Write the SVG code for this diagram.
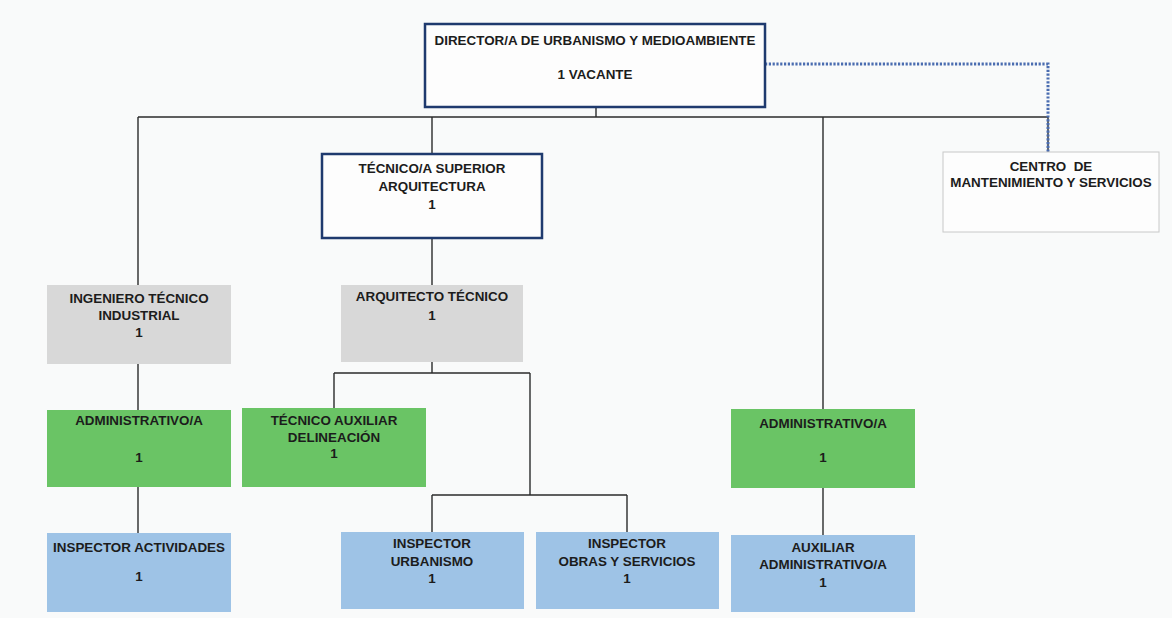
<svg xmlns="http://www.w3.org/2000/svg" width="1172" height="618" viewBox="0 0 1172 618">
<style>
text{font-family:"Liberation Sans",Arial,sans-serif;font-weight:bold;font-size:13.4px;fill:#1c1c1c;text-anchor:middle;white-space:pre}
.conn{stroke:#2b2b2b;stroke-width:1.4;fill:none}
.dot{stroke:#4a6cb0;stroke-width:3;stroke-dasharray:2.2 1.6;fill:none}
.head{fill:#fdfdfd;stroke:#1f3a6e;stroke-width:2.5}
.plain{fill:#fdfdfd;stroke:#c8c8c8;stroke-width:1}
.gray{fill:#d8d8d8}
.green{fill:#6ac465}
.blue{fill:#9ec3e6}
</style>
<rect width="1172" height="618" fill="#f9fafa"/>
<g id="connectors">
<path class="conn" d="M596 107V117M138 117H1048M138 117V285M432 117V154M823 117V409M1048 117V152"/>
<path class="conn" d="M432 238V285M138 364V410M138 487V533"/>
<path class="conn" d="M432 362V373M334 373H530M334 373V408M530 373V495M432 495H627M432 495V532M627 495V532"/>
<path class="conn" d="M823 488V535"/>
<path class="dot" d="M765 64H1048V152"/>
</g>
<g id="director">
<rect class="head" x="425" y="24" width="340" height="83"/>
<text x="595" y="45">DIRECTOR/A DE URBANISMO Y MEDIOAMBIENTE</text>
<text x="595" y="79">1 VACANTE</text>
</g>
<g id="tecnico-superior">
<rect class="head" x="322" y="154" width="220" height="84"/>
<text x="432" y="173">TÉCNICO/A SUPERIOR</text>
<text x="432" y="191">ARQUITECTURA</text>
<text x="432" y="209">1</text>
</g>
<g id="centro">
<rect class="plain" x="943" y="152" width="216" height="80"/>
<text x="1051" y="171" xml:space="preserve">CENTRO  DE</text>
<text x="1051" y="187">MANTENIMIENTO Y SERVICIOS</text>
</g>
<g id="ingeniero">
<rect class="gray" x="47" y="285" width="184" height="79"/>
<text x="139" y="303">INGENIERO TÉCNICO</text>
<text x="139" y="320">INDUSTRIAL</text>
<text x="139" y="337">1</text>
</g>
<g id="arquitecto-tecnico">
<rect class="gray" x="341" y="285" width="182" height="77"/>
<text x="432" y="301">ARQUITECTO TÉCNICO</text>
<text x="432" y="320">1</text>
</g>
<g id="administrativo-1">
<rect class="green" x="47" y="410" width="184" height="77"/>
<text x="139" y="425">ADMINISTRATIVO/A</text>
<text x="139" y="462">1</text>
</g>
<g id="tecnico-auxiliar">
<rect class="green" x="242" y="408" width="184" height="79"/>
<text x="334" y="425">TÉCNICO AUXILIAR</text>
<text x="334" y="442">DELINEACIÓN</text>
<text x="334" y="458">1</text>
</g>
<g id="administrativo-2">
<rect class="green" x="731" y="409" width="184" height="79"/>
<text x="823" y="428">ADMINISTRATIVO/A</text>
<text x="823" y="462">1</text>
</g>
<g id="inspector-actividades">
<rect class="blue" x="47" y="533" width="184" height="79"/>
<text x="139" y="552">INSPECTOR ACTIVIDADES</text>
<text x="139" y="581">1</text>
</g>
<g id="inspector-urbanismo">
<rect class="blue" x="341" y="532" width="183" height="77"/>
<text x="432" y="548">INSPECTOR</text>
<text x="432" y="566">URBANISMO</text>
<text x="432" y="583">1</text>
</g>
<g id="inspector-obras">
<rect class="blue" x="536" y="532" width="183" height="77"/>
<text x="627" y="548">INSPECTOR</text>
<text x="627" y="566">OBRAS Y SERVICIOS</text>
<text x="627" y="583">1</text>
</g>
<g id="auxiliar-administrativo">
<rect class="blue" x="731" y="535" width="184" height="77"/>
<text x="823" y="552">AUXILIAR</text>
<text x="823" y="569">ADMINISTRATIVO/A</text>
<text x="823" y="587">1</text>
</g>
</svg>
